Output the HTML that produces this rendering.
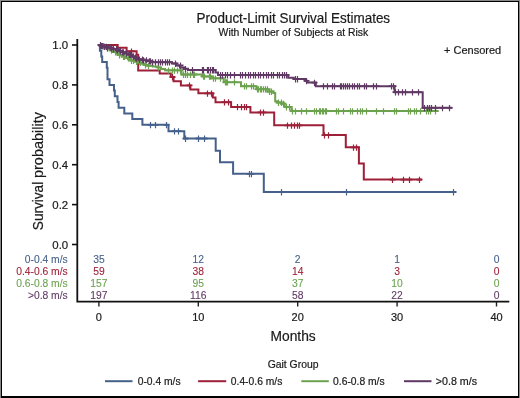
<!DOCTYPE html>
<html><head><meta charset="utf-8"><style>
html,body{margin:0;padding:0;background:#fff;}
svg{display:block;will-change:transform;}
text{font-family:"Liberation Sans", sans-serif;stroke-width:0.2px;}
</style></head><body>
<svg width="520" height="398" viewBox="0 0 520 398">
<rect x="0" y="0" width="520" height="398" fill="#fff"/>
<text x="293.3" y="22.8" text-anchor="middle" font-size="14.2" textLength="193.6" lengthAdjust="spacingAndGlyphs" fill="#1a1a1a" stroke="#1a1a1a">Product-Limit Survival Estimates</text>
<text x="293.4" y="35.8" text-anchor="middle" font-size="10.4" fill="#1a1a1a" stroke="#1a1a1a">With Number of Subjects at Risk</text>
<text x="444" y="53.7" font-size="11" fill="#1a1a1a" stroke="#1a1a1a">+ Censored</text>
<g transform="translate(42.5,230.2) rotate(-90)"><text x="0" y="0" font-size="14.5" textLength="48.4" lengthAdjust="spacingAndGlyphs" fill="#1a1a1a" stroke="#1a1a1a">Survival</text><text x="52.2" y="0" font-size="14.5" textLength="66" lengthAdjust="spacingAndGlyphs" fill="#1a1a1a" stroke="#1a1a1a">probability</text></g>
<path d="M77.3,39V301.6H509.3" stroke="#111" stroke-width="1.8" fill="none"/>
<path d="M72,45.0H77.5" stroke="#111" stroke-width="1.6"/><text x="68.2" y="49.1" text-anchor="end" font-size="11.4" fill="#1a1a1a" stroke="#1a1a1a">1.0</text>
<path d="M72,84.9H77.5" stroke="#111" stroke-width="1.6"/><text x="68.2" y="89.0" text-anchor="end" font-size="11.4" fill="#1a1a1a" stroke="#1a1a1a">0.8</text>
<path d="M72,124.8H77.5" stroke="#111" stroke-width="1.6"/><text x="68.2" y="128.9" text-anchor="end" font-size="11.4" fill="#1a1a1a" stroke="#1a1a1a">0.6</text>
<path d="M72,164.7H77.5" stroke="#111" stroke-width="1.6"/><text x="68.2" y="168.8" text-anchor="end" font-size="11.4" fill="#1a1a1a" stroke="#1a1a1a">0.4</text>
<path d="M72,204.6H77.5" stroke="#111" stroke-width="1.6"/><text x="68.2" y="208.7" text-anchor="end" font-size="11.4" fill="#1a1a1a" stroke="#1a1a1a">0.2</text>
<path d="M72,244.5H77.5" stroke="#111" stroke-width="1.6"/><text x="68.2" y="248.6" text-anchor="end" font-size="11.4" fill="#1a1a1a" stroke="#1a1a1a">0.0</text>
<path d="M98.9,302H98.9V306.5" stroke="#222" stroke-width="1.4"/><text x="98.9" y="321" text-anchor="middle" font-size="11" fill="#1a1a1a" stroke="#1a1a1a">0</text>
<path d="M198.3,302H198.3V306.5" stroke="#222" stroke-width="1.4"/><text x="198.3" y="321" text-anchor="middle" font-size="11" fill="#1a1a1a" stroke="#1a1a1a">10</text>
<path d="M297.7,302H297.7V306.5" stroke="#222" stroke-width="1.4"/><text x="297.7" y="321" text-anchor="middle" font-size="11" fill="#1a1a1a" stroke="#1a1a1a">20</text>
<path d="M397.1,302H397.1V306.5" stroke="#222" stroke-width="1.4"/><text x="397.1" y="321" text-anchor="middle" font-size="11" fill="#1a1a1a" stroke="#1a1a1a">30</text>
<path d="M496.5,302H496.5V306.5" stroke="#222" stroke-width="1.4"/><text x="496.5" y="321" text-anchor="middle" font-size="11" fill="#1a1a1a" stroke="#1a1a1a">40</text>

<path d="M99,45 H99.9 V50.7 H101.3 V56.4 H102.2 V62.1 H106.8 V67.8 H107.5 V79.2 H109.5 V84.9 H114.0 V90.6 H114.8 V96.3 H117.5 V102.0 H118.6 V107.7 H124.3 V113.4 H132.3 V119.1 H142.4 V124.8 H168.5 V131.2 H184.3 V138.5 H215.7 V150.8 H220.0 V162.2 H233.1 V173.8 H263.8 V192.0 H456.0" stroke="#45608a" stroke-width="2" fill="none" stroke-linejoin="miter" stroke-linecap="butt"/>
<path d="M147.5,124.8h6 M152.5,124.8h6 M163.5,124.8h6 M171.5,131.2h6 M175.5,131.2h6 M182.5,138.5h6 M195.5,138.5h6 M201.5,138.5h6 M246.5,173.8h6 M248.5,173.8h6 M278.5,192.0h6 M343.5,192.0h6 M450.5,192.0h6" stroke="#45608a" stroke-width="1.8" fill="none"/><path d="M150.5,121.9v6.3 M155.5,121.9v6.3 M166.5,121.9v6.3 M174.5,128.3v6.3 M178.5,128.3v6.3 M185.5,135.6v6.3 M198.5,135.6v6.3 M204.5,135.6v6.3 M249.5,170.9v6.3 M251.5,170.9v6.3 M281.5,189.1v6.3 M346.5,189.1v6.3 M453.5,189.1v6.3" stroke="#45608a" stroke-width="1.2" fill="none"/>
<path d="M99,45 H117.7 V47.8 H126.6 V51.3 H136.6 V54.8 H138.2 V70.5 H159.7 V73.6 H170.8 V77.0 H173.6 V81.3 H180.9 V85.4 H190.4 V89.4 H198.4 V93.3 H212.8 V97.5 H215.5 V102.2 H231.1 V106.9 H250.4 V112.4 H274.2 V125.3 H323.5 V135.1 H345.8 V147.3 H358.9 V163.5 H363.8 V179.6 H422.0" stroke="#9e2038" stroke-width="2" fill="none" stroke-linejoin="miter" stroke-linecap="butt"/>
<path d="M128.5,51.3h6 M169.5,77.0h6 M186.5,85.4h6 M204.5,93.3h6 M208.5,93.3h6 M221.5,102.2h6 M225.5,102.2h6 M234.5,106.9h6 M238.5,106.9h6 M241.5,106.9h6 M243.5,106.9h6 M257.5,112.4h6 M260.5,112.4h6 M284.5,125.3h6 M288.5,125.3h6 M291.5,125.3h6 M294.5,125.3h6 M296.5,125.3h6 M321.5,135.1h6 M325.5,135.1h6 M350.5,147.3h6 M353.5,147.3h6 M389.5,179.6h6 M400.5,179.6h6 M406.5,179.6h6 M416.5,179.6h6" stroke="#9e2038" stroke-width="1.8" fill="none"/><path d="M131.5,48.4v6.3 M172.5,74.1v6.3 M189.5,82.5v6.3 M207.5,90.4v6.3 M211.5,90.4v6.3 M224.5,99.3v6.3 M228.5,99.3v6.3 M237.5,104.0v6.3 M241.5,104.0v6.3 M244.5,104.0v6.3 M246.5,104.0v6.3 M260.5,109.5v6.3 M263.5,109.5v6.3 M287.5,122.4v6.3 M291.5,122.4v6.3 M294.5,122.4v6.3 M297.5,122.4v6.3 M299.5,122.4v6.3 M324.5,132.2v6.3 M328.5,132.2v6.3 M353.5,144.4v6.3 M356.5,144.4v6.3 M392.5,176.7v6.3 M403.5,176.7v6.3 M409.5,176.7v6.3 M419.5,176.7v6.3" stroke="#9e2038" stroke-width="1.2" fill="none"/>
<path d="M99,45 H101.0 V46.0 H104.0 V47.2 H107.0 V48.6 H110.0 V50.3 H113.0 V52.0 H116.0 V53.5 H119.0 V55.0 H122.0 V56.5 H125.0 V58.0 H128.0 V59.3 H131.0 V60.5 H134.0 V61.6 H137.0 V62.6 H140.0 V63.8 H144.0 V65.0 H148.0 V65.8 H152.7 V66.6 H158.0 V67.4 H161.0 V69.0 H165.0 V70.3 H181.5 V74.5 H202.3 V76.4 H211.5 V78.3 H223.8 V82.2 H241.0 V86.2 H256.5 V89.2 H267.3 V91.5 H273.3 V93.0 H275.2 V101.3 H277.4 V102.5 H281.0 V103.7 H284.6 V107.0 H291.4 V111.1 H438.5" stroke="#6ca24e" stroke-width="2" fill="none" stroke-linejoin="miter" stroke-linecap="butt"/>
<path d="M100.5,46.0h6 M104.5,48.6h6 M108.5,50.3h6 M112.5,52.0h6 M116.5,55.0h6 M120.5,56.5h6 M121.5,56.5h6 M125.5,58.0h6 M128.5,60.5h6 M130.5,60.5h6 M133.5,61.6h6 M137.5,62.6h6 M142.5,65.0h6 M145.5,65.8h6 M155.5,67.4h6 M165.5,70.3h6 M169.5,70.3h6 M171.5,70.3h6 M174.5,70.3h6 M177.5,70.3h6 M180.5,74.5h6 M182.5,74.5h6 M184.5,74.5h6 M187.5,74.5h6 M190.5,74.5h6 M191.5,74.5h6 M200.5,76.4h6 M201.5,76.4h6 M206.5,76.4h6 M207.5,76.4h6 M210.5,78.3h6 M212.5,78.3h6 M217.5,78.3h6 M222.5,82.2h6 M223.5,82.2h6 M224.5,82.2h6 M231.5,82.2h6 M241.5,86.2h6 M243.5,86.2h6 M248.5,86.2h6 M250.5,86.2h6 M254.5,89.2h6 M255.5,89.2h6 M257.5,89.2h6 M258.5,89.2h6 M260.5,89.2h6 M262.5,89.2h6 M264.5,89.2h6 M266.5,91.5h6 M268.5,91.5h6 M275.5,102.5h6 M278.5,102.5h6 M280.5,103.7h6 M283.5,107.0h6 M286.5,107.0h6 M289.5,111.1h6 M292.5,111.1h6 M298.5,111.1h6 M303.5,111.1h6 M311.5,111.1h6 M313.5,111.1h6 M316.5,111.1h6 M319.5,111.1h6 M322.5,111.1h6 M317.5,111.1h6 M320.5,111.1h6 M323.5,111.1h6 M333.5,111.1h6 M335.5,111.1h6 M340.5,111.1h6 M347.5,111.1h6 M349.5,111.1h6 M354.5,111.1h6 M357.5,111.1h6 M359.5,111.1h6 M363.5,111.1h6 M373.5,111.1h6 M380.5,111.1h6 M391.5,111.1h6 M393.5,111.1h6 M405.5,111.1h6 M407.5,111.1h6 M411.5,111.1h6 M413.5,111.1h6 M417.5,111.1h6 M423.5,111.1h6 M425.5,111.1h6 M427.5,111.1h6 M432.5,111.1h6" stroke="#6ca24e" stroke-width="1.8" fill="none"/><path d="M103.5,43.1v6.3 M107.5,45.7v6.3 M111.5,47.4v6.3 M115.5,49.1v6.3 M119.5,52.1v6.3 M123.5,53.6v6.3 M124.5,53.6v6.3 M128.5,55.1v6.3 M131.5,57.6v6.3 M133.5,57.6v6.3 M136.5,58.7v6.3 M140.5,59.7v6.3 M145.5,62.1v6.3 M148.5,62.9v6.3 M158.5,64.5v6.3 M168.5,67.4v6.3 M172.5,67.4v6.3 M174.5,67.4v6.3 M177.5,67.4v6.3 M180.5,67.4v6.3 M183.5,71.6v6.3 M185.5,71.6v6.3 M187.5,71.6v6.3 M190.5,71.6v6.3 M193.5,71.6v6.3 M194.5,71.6v6.3 M203.5,73.5v6.3 M204.5,73.5v6.3 M209.5,73.5v6.3 M210.5,73.5v6.3 M213.5,75.4v6.3 M215.5,75.4v6.3 M220.5,75.4v6.3 M225.5,79.3v6.3 M226.5,79.3v6.3 M227.5,79.3v6.3 M234.5,79.3v6.3 M244.5,83.3v6.3 M246.5,83.3v6.3 M251.5,83.3v6.3 M253.5,83.3v6.3 M257.5,86.3v6.3 M258.5,86.3v6.3 M260.5,86.3v6.3 M261.5,86.3v6.3 M263.5,86.3v6.3 M265.5,86.3v6.3 M267.5,86.3v6.3 M269.5,88.6v6.3 M271.5,88.6v6.3 M278.5,99.6v6.3 M281.5,99.6v6.3 M283.5,100.8v6.3 M286.5,104.1v6.3 M289.5,104.1v6.3 M292.5,108.2v6.3 M295.5,108.2v6.3 M301.5,108.2v6.3 M306.5,108.2v6.3 M314.5,108.2v6.3 M316.5,108.2v6.3 M319.5,108.2v6.3 M322.5,108.2v6.3 M325.5,108.2v6.3 M320.5,108.2v6.3 M323.5,108.2v6.3 M326.5,108.2v6.3 M336.5,108.2v6.3 M338.5,108.2v6.3 M343.5,108.2v6.3 M350.5,108.2v6.3 M352.5,108.2v6.3 M357.5,108.2v6.3 M360.5,108.2v6.3 M362.5,108.2v6.3 M366.5,108.2v6.3 M376.5,108.2v6.3 M383.5,108.2v6.3 M394.5,108.2v6.3 M396.5,108.2v6.3 M408.5,108.2v6.3 M410.5,108.2v6.3 M414.5,108.2v6.3 M416.5,108.2v6.3 M420.5,108.2v6.3 M426.5,108.2v6.3 M428.5,108.2v6.3 M430.5,108.2v6.3 M435.5,108.2v6.3" stroke="#6ca24e" stroke-width="1.2" fill="none"/>
<path d="M99,45 H101.0 V45.8 H104.0 V46.6 H107.0 V47.4 H110.0 V48.2 H113.0 V49.0 H116.0 V50.0 H119.0 V51.0 H122.0 V52.2 H125.0 V53.4 H128.0 V54.5 H130.0 V55.5 H132.0 V56.5 H134.0 V57.5 H136.0 V58.4 H139.0 V59.3 H142.0 V60.2 H146.0 V61.2 H151.0 V62.2 H172.0 V63.5 H176.0 V65.5 H180.0 V67.5 H184.0 V68.8 H188.0 V70.0 H215.5 V72.5 H218.0 V75.0 H288.2 V77.7 H293.7 V79.0 H305.0 V80.8 H307.0 V82.6 H315.8 V86.2 H394.6 V92.2 H422.7 V107.8 H452.3" stroke="#603864" stroke-width="2" fill="none" stroke-linejoin="miter" stroke-linecap="butt"/>
<path d="M97.5,45.0h6 M98.5,45.8h6 M99.5,45.8h6 M101.5,46.6h6 M103.5,46.6h6 M104.5,47.4h6 M107.5,47.4h6 M108.5,48.2h6 M110.5,49.0h6 M113.5,49.0h6 M114.5,50.0h6 M117.5,51.0h6 M119.5,52.2h6 M120.5,52.2h6 M123.5,53.4h6 M126.5,54.5h6 M127.5,54.5h6 M130.5,56.5h6 M132.5,57.5h6 M133.5,58.4h6 M136.5,59.3h6 M139.5,59.3h6 M140.5,60.2h6 M143.5,60.2h6 M146.5,61.2h6 M147.5,61.2h6 M149.5,62.2h6 M152.5,62.2h6 M155.5,62.2h6 M157.5,62.2h6 M159.5,62.2h6 M162.5,62.2h6 M164.5,62.2h6 M166.5,62.2h6 M172.5,63.5h6 M177.5,65.5h6 M182.5,68.8h6 M189.5,70.0h6 M199.5,70.0h6 M200.5,70.0h6 M204.5,70.0h6 M205.5,70.0h6 M207.5,70.0h6 M209.5,70.0h6 M210.5,70.0h6 M217.5,75.0h6 M219.5,75.0h6 M222.5,75.0h6 M224.5,75.0h6 M227.5,75.0h6 M231.5,75.0h6 M237.5,75.0h6 M239.5,75.0h6 M242.5,75.0h6 M245.5,75.0h6 M247.5,75.0h6 M250.5,75.0h6 M252.5,75.0h6 M255.5,75.0h6 M257.5,75.0h6 M260.5,75.0h6 M263.5,75.0h6 M265.5,75.0h6 M268.5,75.0h6 M270.5,75.0h6 M274.5,75.0h6 M276.5,75.0h6 M279.5,75.0h6 M281.5,75.0h6 M283.5,75.0h6 M292.5,79.0h6 M294.5,79.0h6 M303.5,80.8h6 M311.5,82.6h6 M320.5,86.2h6 M324.5,86.2h6 M329.5,86.2h6 M331.5,86.2h6 M337.5,86.2h6 M338.5,86.2h6 M340.5,86.2h6 M342.5,86.2h6 M344.5,86.2h6 M346.5,86.2h6 M349.5,86.2h6 M351.5,86.2h6 M354.5,86.2h6 M356.5,86.2h6 M361.5,86.2h6 M363.5,86.2h6 M370.5,86.2h6 M373.5,86.2h6 M388.5,86.2h6 M390.5,86.2h6 M392.5,92.2h6 M395.5,92.2h6 M399.5,92.2h6 M402.5,92.2h6 M409.5,92.2h6 M415.5,92.2h6 M421.5,107.8h6 M424.5,107.8h6 M426.5,107.8h6 M428.5,107.8h6 M432.5,107.8h6 M439.5,107.8h6 M446.5,107.8h6" stroke="#603864" stroke-width="1.8" fill="none"/><path d="M100.5,42.1v6.3 M101.5,42.9v6.3 M102.5,42.9v6.3 M104.5,43.7v6.3 M106.5,43.7v6.3 M107.5,44.5v6.3 M110.5,44.5v6.3 M111.5,45.3v6.3 M113.5,46.1v6.3 M116.5,46.1v6.3 M117.5,47.1v6.3 M120.5,48.1v6.3 M122.5,49.3v6.3 M123.5,49.3v6.3 M126.5,50.5v6.3 M129.5,51.6v6.3 M130.5,51.6v6.3 M133.5,53.6v6.3 M135.5,54.6v6.3 M136.5,55.5v6.3 M139.5,56.4v6.3 M142.5,56.4v6.3 M143.5,57.3v6.3 M146.5,57.3v6.3 M149.5,58.3v6.3 M150.5,58.3v6.3 M152.5,59.3v6.3 M155.5,59.3v6.3 M158.5,59.3v6.3 M160.5,59.3v6.3 M162.5,59.3v6.3 M165.5,59.3v6.3 M167.5,59.3v6.3 M169.5,59.3v6.3 M175.5,60.6v6.3 M180.5,62.6v6.3 M185.5,65.9v6.3 M192.5,67.1v6.3 M202.5,67.1v6.3 M203.5,67.1v6.3 M207.5,67.1v6.3 M208.5,67.1v6.3 M210.5,67.1v6.3 M212.5,67.1v6.3 M213.5,67.1v6.3 M220.5,72.1v6.3 M222.5,72.1v6.3 M225.5,72.1v6.3 M227.5,72.1v6.3 M230.5,72.1v6.3 M234.5,72.1v6.3 M240.5,72.1v6.3 M242.5,72.1v6.3 M245.5,72.1v6.3 M248.5,72.1v6.3 M250.5,72.1v6.3 M253.5,72.1v6.3 M255.5,72.1v6.3 M258.5,72.1v6.3 M260.5,72.1v6.3 M263.5,72.1v6.3 M266.5,72.1v6.3 M268.5,72.1v6.3 M271.5,72.1v6.3 M273.5,72.1v6.3 M277.5,72.1v6.3 M279.5,72.1v6.3 M282.5,72.1v6.3 M284.5,72.1v6.3 M286.5,72.1v6.3 M295.5,76.1v6.3 M297.5,76.1v6.3 M306.5,77.9v6.3 M314.5,79.7v6.3 M323.5,83.3v6.3 M327.5,83.3v6.3 M332.5,83.3v6.3 M334.5,83.3v6.3 M340.5,83.3v6.3 M341.5,83.3v6.3 M343.5,83.3v6.3 M345.5,83.3v6.3 M347.5,83.3v6.3 M349.5,83.3v6.3 M352.5,83.3v6.3 M354.5,83.3v6.3 M357.5,83.3v6.3 M359.5,83.3v6.3 M364.5,83.3v6.3 M366.5,83.3v6.3 M373.5,83.3v6.3 M376.5,83.3v6.3 M391.5,83.3v6.3 M393.5,83.3v6.3 M395.5,89.3v6.3 M398.5,89.3v6.3 M402.5,89.3v6.3 M405.5,89.3v6.3 M412.5,89.3v6.3 M418.5,89.3v6.3 M424.5,104.9v6.3 M427.5,104.9v6.3 M429.5,104.9v6.3 M431.5,104.9v6.3 M435.5,104.9v6.3 M442.5,104.9v6.3 M449.5,104.9v6.3" stroke="#603864" stroke-width="1.2" fill="none"/>

<text x="67.7" y="262.5" text-anchor="end" font-size="10.3" fill="#45608a" stroke="#45608a" style="stroke-width:0.1px">0-0.4 m/s</text><text x="98.9" y="262.5" text-anchor="middle" font-size="10.3" fill="#45608a" stroke="#45608a" style="stroke-width:0.1px">35</text><text x="198.3" y="262.5" text-anchor="middle" font-size="10.3" fill="#45608a" stroke="#45608a" style="stroke-width:0.1px">12</text><text x="297.7" y="262.5" text-anchor="middle" font-size="10.3" fill="#45608a" stroke="#45608a" style="stroke-width:0.1px">2</text><text x="397.1" y="262.5" text-anchor="middle" font-size="10.3" fill="#45608a" stroke="#45608a" style="stroke-width:0.1px">1</text><text x="496.5" y="262.5" text-anchor="middle" font-size="10.3" fill="#45608a" stroke="#45608a" style="stroke-width:0.1px">0</text>
<text x="67.7" y="274.6" text-anchor="end" font-size="10.3" fill="#9e2038" stroke="#9e2038" style="stroke-width:0.1px">0.4-0.6 m/s</text><text x="98.9" y="274.6" text-anchor="middle" font-size="10.3" fill="#9e2038" stroke="#9e2038" style="stroke-width:0.1px">59</text><text x="198.3" y="274.6" text-anchor="middle" font-size="10.3" fill="#9e2038" stroke="#9e2038" style="stroke-width:0.1px">38</text><text x="297.7" y="274.6" text-anchor="middle" font-size="10.3" fill="#9e2038" stroke="#9e2038" style="stroke-width:0.1px">14</text><text x="397.1" y="274.6" text-anchor="middle" font-size="10.3" fill="#9e2038" stroke="#9e2038" style="stroke-width:0.1px">3</text><text x="496.5" y="274.6" text-anchor="middle" font-size="10.3" fill="#9e2038" stroke="#9e2038" style="stroke-width:0.1px">0</text>
<text x="67.7" y="286.8" text-anchor="end" font-size="10.3" fill="#6ca24e" stroke="#6ca24e" style="stroke-width:0.1px">0.6-0.8 m/s</text><text x="98.9" y="286.8" text-anchor="middle" font-size="10.3" fill="#6ca24e" stroke="#6ca24e" style="stroke-width:0.1px">157</text><text x="198.3" y="286.8" text-anchor="middle" font-size="10.3" fill="#6ca24e" stroke="#6ca24e" style="stroke-width:0.1px">95</text><text x="297.7" y="286.8" text-anchor="middle" font-size="10.3" fill="#6ca24e" stroke="#6ca24e" style="stroke-width:0.1px">37</text><text x="397.1" y="286.8" text-anchor="middle" font-size="10.3" fill="#6ca24e" stroke="#6ca24e" style="stroke-width:0.1px">10</text><text x="496.5" y="286.8" text-anchor="middle" font-size="10.3" fill="#6ca24e" stroke="#6ca24e" style="stroke-width:0.1px">0</text>
<text x="67.7" y="298.9" text-anchor="end" font-size="10.3" fill="#603864" stroke="#603864" style="stroke-width:0.1px">&gt;0.8 m/s</text><text x="98.9" y="298.9" text-anchor="middle" font-size="10.3" fill="#603864" stroke="#603864" style="stroke-width:0.1px">197</text><text x="198.3" y="298.9" text-anchor="middle" font-size="10.3" fill="#603864" stroke="#603864" style="stroke-width:0.1px">116</text><text x="297.7" y="298.9" text-anchor="middle" font-size="10.3" fill="#603864" stroke="#603864" style="stroke-width:0.1px">58</text><text x="397.1" y="298.9" text-anchor="middle" font-size="10.3" fill="#603864" stroke="#603864" style="stroke-width:0.1px">22</text><text x="496.5" y="298.9" text-anchor="middle" font-size="10.3" fill="#603864" stroke="#603864" style="stroke-width:0.1px">0</text>

<text x="293.1" y="340.8" text-anchor="middle" font-size="13.8" fill="#1a1a1a" stroke="#1a1a1a">Months</text>
<text x="293.1" y="368.2" text-anchor="middle" font-size="10.4" fill="#1a1a1a" stroke="#1a1a1a">Gait Group</text>
<path d="M105,381.2H132.5" stroke="#45608a" stroke-width="2"/><text x="137.7" y="385.1" font-size="10.3" fill="#1a1a1a" stroke="#1a1a1a">0-0.4 m/s</text>
<path d="M198.1,381.2H226.2" stroke="#9e2038" stroke-width="2"/><text x="230.8" y="385.1" font-size="10.3" fill="#1a1a1a" stroke="#1a1a1a">0.4-0.6 m/s</text>
<path d="M301.3,381.2H328.8" stroke="#6ca24e" stroke-width="2"/><text x="333.1" y="385.1" font-size="10.3" fill="#1a1a1a" stroke="#1a1a1a">0.6-0.8 m/s</text>
<path d="M404,381.2H431.5" stroke="#603864" stroke-width="2"/><text x="435.8" y="385.1" font-size="10.3" fill="#1a1a1a" stroke="#1a1a1a" textLength="41.2" lengthAdjust="spacingAndGlyphs">&gt;0.8 m/s</text>

<rect x="0" y="0" width="1" height="398" fill="#888"/>
<rect x="0" y="0" width="520" height="1" fill="#888"/>
<rect x="519" y="0" width="1" height="398" fill="#888"/>
<rect x="1" y="1" width="1" height="397" fill="#000"/>
<rect x="1" y="1" width="518" height="1" fill="#000"/>
<rect x="518" y="1" width="1" height="397" fill="#000"/>
<rect x="1" y="396" width="518" height="2" fill="#000"/>
</svg>
</body></html>
